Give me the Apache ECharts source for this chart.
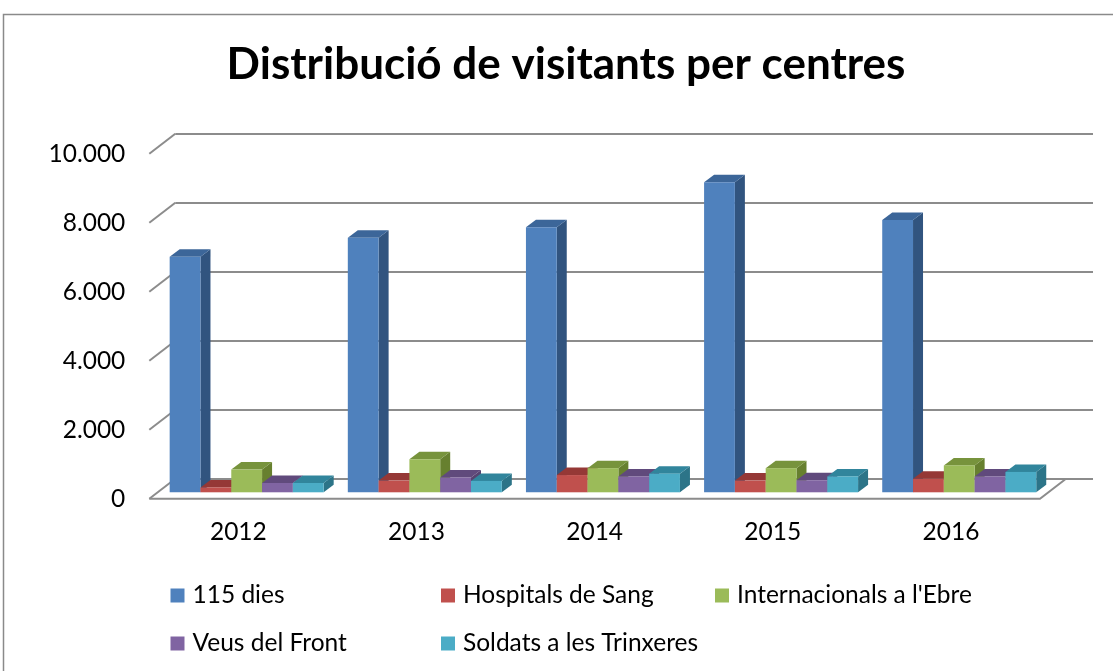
<!DOCTYPE html>
<html>
<head>
<meta charset="utf-8">
<script src="https://cdn.jsdelivr.net/npm/echarts@6/dist/echarts.min.js"></script>
<style>
html,body{margin:0;padding:0;background:#fff;}
#chart{width:1113px;height:671px;}
</style>
</head>
<body>
<div id="chart"></div>
<script>
// ---- data ----
const years = ['2012', '2013', '2014', '2015', '2016'];
const seriesNames = ['115 dies', 'Hospitals de Sang', "Internacionals a l'Ebre", 'Veus del Front', 'Soldats a les Trinxeres'];
const dies115 = [6830, 7380, 7680, 8990, 7890];
const hospitals = [140, 340, 500, 340, 390];
const internacionals = [660, 960, 700, 700, 780];
const veus = [270, 430, 460, 350, 460];
const soldats = [270, 330, 540, 460, 590];
const tickValues = [0, 2000, 4000, 6000, 8000, 10000];

const allValues = [dies115, hospitals, internacionals, veus, soldats];

// ---- styles ----
const FONT = 'Lato';
const LABEL_SIZE = 24.5;
const palette = [
  {front: '#4F81BD', top: '#3c6699', side: '#31547f'},
  {front: '#C0504D', top: '#953836', side: '#8a3633'},
  {front: '#9BBB59', top: '#77933c', side: '#67802f'},
  {front: '#8064A2', top: '#604a7c', side: '#574370'},
  {front: '#4BACC6', top: '#31859c', side: '#2c7488'}
];
const DEPTH_X = 26, DEPTH_Y = 20;      // wall depth (back -> front is -x, +y)
const BAR_DX = 10, BAR_DY = 7.5;        // bar depth
const WALL_EXTRA = 27;                  // back-wall gridlines extend past the floor
const GRID_COLOR = '#8c8c8c';

function fmt(v) {
  return String(v).replace(/\B(?=(\d{3})+(?!\d))/g, '.');
}

const chart = echarts.init(document.getElementById('chart'), null, {renderer: 'canvas'});

function barSeries(s) {
  return {
    type: 'custom',
    name: seriesNames[s],
    xAxisIndex: 1,
    yAxisIndex: 1,
    itemStyle: {color: palette[s].front},
    z: 10,
    data: years.map((y, i) => [i, allValues[s][i]]),
    encode: {x: 0, y: 1},
    renderItem: function (params, api) {
      const idx = api.value(0), v = api.value(1);
      const base = api.coord([idx, 0]);
      const topP = api.coord([idx, v]);
      const bandW = api.size([1, 0])[0];
      const w = bandW * 0.1729;
      const x = base[0] - 2.5 * w + s * w;
      const y0 = base[1], y1 = topP[1];
      const c = palette[s];
      return {
        type: 'group',
        children: [
          {type: 'polygon', shape: {points: [[x + w, y1], [x + w + BAR_DX, y1 - BAR_DY], [x + w + BAR_DX, y0 - BAR_DY], [x + w, y0]]}, style: {fill: c.side}},
          {type: 'polygon', shape: {points: [[x, y1], [x + w, y1], [x + w + BAR_DX, y1 - BAR_DY], [x + BAR_DX, y1 - BAR_DY]]}, style: {fill: c.top}},
          {type: 'rect', shape: {x: x, y: y1, width: w, height: y0 - y1}, style: {fill: c.front}}
        ]
      };
    }
  };
}

const option = {
  animation: false,
  backgroundColor: '#ffffff',
  graphic: [{
    type: 'rect',
    shape: {x: 3.5, y: 14.5, width: 1200, height: 800},
    style: {fill: 'none', stroke: '#8a8a8a', lineWidth: 1.5},
    z: -10
  }],
  title: {
    text: 'Distribució de visitants per centres',
    left: 566,
    top: 43,
    textAlign: 'center',
    padding: 0,
    textStyle: {fontFamily: FONT, fontWeight: 'bold', fontSize: 44, lineHeight: 44, color: '#000'}
  },
  legend: [
    {name: 0, left: 170.5, top: 583},
    {name: 1, left: 441, top: 583},
    {name: 2, left: 715, top: 583},
    {name: 3, left: 170.5, top: 631},
    {name: 4, left: 441, top: 631}
  ].map(l => ({
    data: [seriesNames[l.name]],
    left: l.left,
    top: l.top,
    padding: 0,
    icon: 'rect',
    itemWidth: 14,
    itemHeight: 14,
    selectedMode: false,
    textStyle: {fontFamily: FONT, fontSize: LABEL_SIZE, lineHeight: 24, color: '#000', padding: [0, 0, 0, 3]}
  })),
  grid: [
    // back wall
    {left: 175.3, right: 1113 - 1066 - WALL_EXTRA, top: 133.7, bottom: 671 - 478.7},
    // bar front plane (bars)
    {left: 175.3 - 17.7, right: 1113 - 1066 + 17.7, top: 133.7 + 13.6, bottom: 671 - 478.7 - 13.6},
    // front edge (value labels + year labels)
    {left: 175.3 - DEPTH_X, right: 1113 - 1066 + DEPTH_X, top: 133.7 + DEPTH_Y, bottom: 671 - 478.7 - DEPTH_Y}
  ],
  xAxis: [
    {gridIndex: 0, type: 'category', data: years, show: false},
    {gridIndex: 1, type: 'category', data: years, show: false},
    {gridIndex: 2, type: 'category', data: years,
      axisLine: {show: false}, axisTick: {show: false}, splitLine: {show: false},
      axisLabel: {margin: 21, fontFamily: FONT, fontSize: LABEL_SIZE, lineHeight: 24, color: '#000'}}
  ],
  yAxis: [
    {gridIndex: 0, type: 'value', min: 0, max: 10000, interval: 2000,
      axisLine: {show: false}, axisTick: {show: false}, axisLabel: {show: false},
      splitLine: {show: true, lineStyle: {color: GRID_COLOR, width: 2}}},
    {gridIndex: 1, type: 'value', min: 0, max: 10000, interval: 2000, show: false,
      splitLine: {show: false}},
    {gridIndex: 2, type: 'value', min: 0, max: 10000, interval: 2000,
      axisLine: {show: false}, axisTick: {show: false}, splitLine: {show: false},
      axisLabel: {margin: 24, fontFamily: FONT, fontSize: LABEL_SIZE, color: '#000', formatter: fmt}}
  ],
  series: [
    // side-wall slanted gridlines
    {
      type: 'custom',
      xAxisIndex: 0, yAxisIndex: 0,
      silent: true,
      z: 1,
      data: tickValues.map(v => [0, v]),
      encode: {x: 0, y: 1},
      renderItem: function (params, api) {
        const left = params.coordSys.x;
        const y = api.coord([0, api.value(1)])[1];
        return {type: 'line', shape: {x1: left, y1: y, x2: left - DEPTH_X, y2: y + DEPTH_Y},
          style: {stroke: GRID_COLOR, lineWidth: 2}};
      }
    },
    // floor
    {
      type: 'custom',
      xAxisIndex: 0, yAxisIndex: 0,
      silent: true,
      z: 1,
      data: [[0, 0]],
      encode: {x: 0, y: 1},
      renderItem: function (params, api) {
        const cs = params.coordSys;
        const y = api.coord([0, 0])[1];
        const l = cs.x, r = cs.x + cs.width - WALL_EXTRA;
        return {type: 'polyline', shape: {points: [[l - DEPTH_X, y + DEPTH_Y], [r - DEPTH_X, y + DEPTH_Y], [r, y]]},
          style: {stroke: GRID_COLOR, lineWidth: 2, fill: 'none'}};
      }
    },
    barSeries(0), barSeries(1), barSeries(2), barSeries(3), barSeries(4)
  ]
};

chart.setOption(option);
</script>
</body>
</html>
